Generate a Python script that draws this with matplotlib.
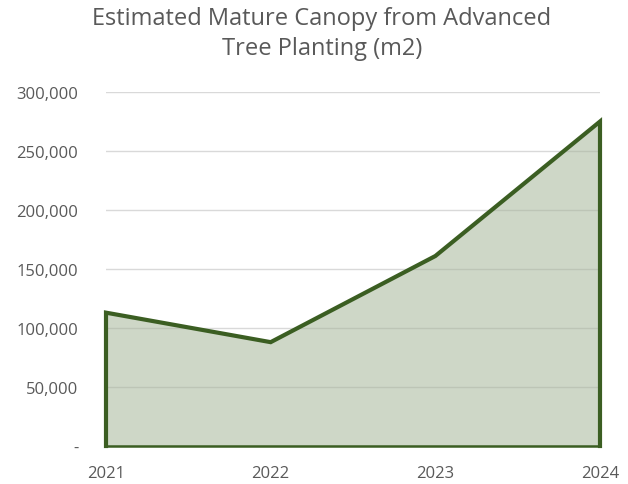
import matplotlib.pyplot as plt
from matplotlib.ticker import FuncFormatter

years = [2021, 2022, 2023, 2024]
canopy = [113000, 88000, 161000, 275000]
yticks = [0, 50000, 100000, 150000, 200000, 250000, 300000]

plt.rcParams['font.family'] = ['Open Sans', 'DejaVu Sans']

fig = plt.figure(figsize=(6.28, 4.85), dpi=100)
ax = fig.add_axes([106 / 628, 38 / 485, 494 / 628, 354 / 485])

edge = '#3b5e22'
ax.fill_between(years, canopy, 0, color='#a6b69a', alpha=0.55, linewidth=0, zorder=3)
xs = [years[0]] + years + [years[-1]]
ys = [0] + canopy + [0]
ax.plot(xs, ys, color=edge, linewidth=3, solid_joinstyle='miter', clip_on=False, zorder=4)
ax.plot([years[0], years[-1]], [0, 0], color=edge, linewidth=1.8, clip_on=False, zorder=4)

ax.set_xlim(years[0], years[-1])
ax.set_ylim(0, 300000)
ax.set_xticks(years)
ax.set_yticks(yticks)
ax.yaxis.set_major_formatter(FuncFormatter(lambda v, p: '-' if v == 0 else f'{int(v):,}'))
ax.grid(axis='y', color='#d9d9d9', linewidth=1, zorder=2)
ax.set_axisbelow(False)
for s in ax.spines.values():
    s.set_visible(False)
ax.tick_params(length=0, labelsize=12, colors='#595959')
ax.tick_params(axis='x', pad=14)
ax.tick_params(axis='y', pad=20)

fig.text(322 / 628, 1 - 34 / 485, 'Estimated Mature Canopy from Advanced\nTree Planting (m2)',
         ha='center', va='center', fontsize=17, color='#595959', linespacing=1.35)

fig.savefig('out.png', dpi=100)
